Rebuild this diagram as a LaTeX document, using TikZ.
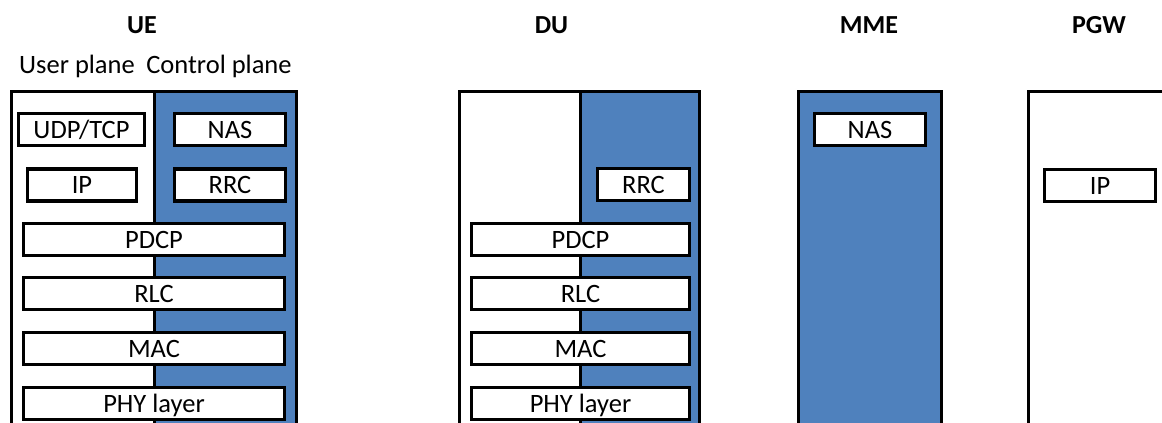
\documentclass[tikz,border=0pt]{standalone}
\usepackage{fontspec}
\setmainfont{Carlito}
\definecolor{cpblue}{RGB}{79,129,189}
\begin{document}
\begin{tikzpicture}[x=1pt,y=-1pt,
  layer/.style={draw=black,fill=white,line width=3.5pt,minimum height=32pt,inner sep=0pt,
    font=\fontsize{26.5}{26.5}\selectfont,text depth=0pt,text height=17pt},
  title/.style={font=\fontsize{26}{26}\selectfont\bfseries},
  plane/.style={font=\fontsize{26.5}{26.5}\selectfont},
  outer/.style={draw=black,line width=3pt}]
\useasboundingbox (0,0) rectangle (1162,423);
\clip (0,0) rectangle (1162,423);
\fill[white] (0,0) rectangle (1162,423);
% titles
\node[title] (tUE) at (142,25) {UE};
\node[title] (tDU) at (551.5,25) {DU};
\node[title] (tMME) at (869,25) {MME};
\node[title] (tPGW) at (1099,25) {PGW};
\node[plane,anchor=base] (up) at (77,73) {User plane};
\node[plane,anchor=base] (cp) at (219,73) {Control plane};
% UE
\fill[cpblue] (154,91.5) rectangle (296,450);
\draw[outer] (11.5,450) -- (11.5,91.5) -- (296,91.5) -- (296,450);
\draw[outer] (154,91.5) -- (154,450);
\node[layer,minimum width=126pt] (ueudp) at (81.5,129.5) {UDP/TCP};
\node[layer,minimum width=111pt] (uenas) at (230,129.5) {NAS};
\node[layer,minimum width=109pt] (ueip) at (82,185) {IP};
\node[layer,minimum width=111pt] (uerrc) at (230,185) {RRC};
\node[layer,minimum width=261pt] (uepdcp) at (154,239.5) {PDCP};
\node[layer,minimum width=261pt] (uerlc) at (154,293.5) {RLC};
\node[layer,minimum width=261pt] (uemac) at (154,348.5) {MAC};
\node[layer,minimum width=261pt] (uephy) at (154,403.5) {PHY layer};
% DU
\fill[cpblue] (580,91.5) rectangle (699,450);
\draw[outer] (459,450) -- (459,91.5) -- (699,91.5) -- (699,450);
\draw[outer] (580,91.5) -- (580,450);
\node[layer,minimum width=92pt] (durrc) at (643.5,184.5) {RRC};
\node[layer,minimum width=218pt] (dupdcp) at (580.5,239.5) {PDCP};
\node[layer,minimum width=218pt] (durlc) at (580.5,293.5) {RLC};
\node[layer,minimum width=218pt] (dumac) at (580.5,348.5) {MAC};
\node[layer,minimum width=218pt] (duphy) at (580.5,403.5) {PHY layer};
% MME
\fill[cpblue] (798.5,91.5) rectangle (941,450);
\draw[outer] (798.5,450) -- (798.5,91.5) -- (941,91.5) -- (941,450);
\node[layer,minimum width=111pt] (mmenas) at (870,129.5) {NAS};
% PGW
\draw[outer] (1028.5,450) -- (1028.5,91.5) -- (1200,91.5);
\node[layer,minimum width=111pt] (pgwip) at (1100,185.5) {IP};
\end{tikzpicture}
\end{document}
